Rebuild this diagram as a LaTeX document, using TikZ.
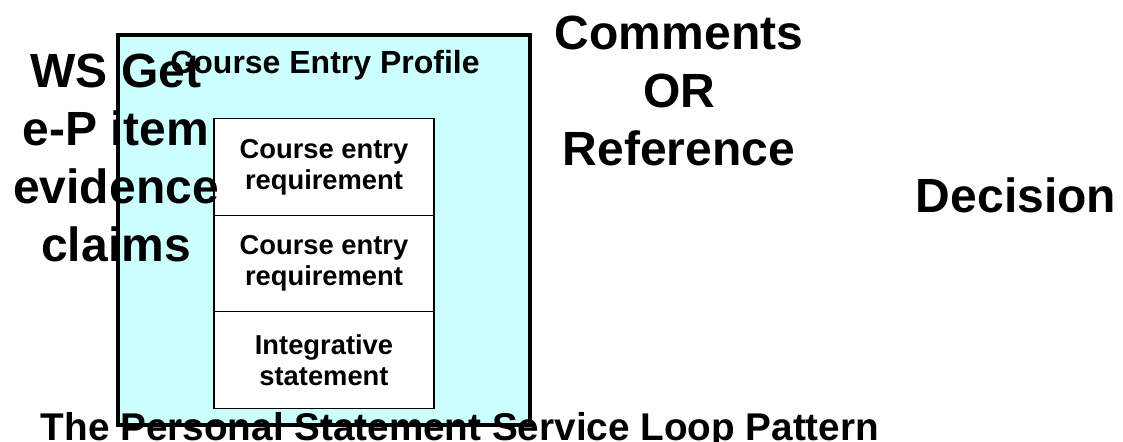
\documentclass[tikz,border=0pt]{standalone}
\usepackage{fontspec}
\setmainfont{Liberation Sans}
\definecolor{profilecyan}{HTML}{CCFFFF}
\tikzset{
  bigtext/.style={font=\fontsize{36}{43.5}\selectfont\bfseries,align=center,inner sep=0pt},
  reqcell/.style={draw,fill=white,line width=1pt,minimum width=165pt,
    minimum height=72.4pt,inner sep=0pt,align=center,
    font=\fontsize{20.5}{23.5}\selectfont\bfseries}
}
\begin{document}
\begin{tikzpicture}[x=0.75pt,y=-0.75pt]
    \useasboundingbox (0,0) rectangle (1123,442);

    \node[draw,fill=profilecyan,line width=3pt,minimum width=309pt,
      minimum height=292.5pt,inner sep=0pt] (profile) at (324,230) {};
    \node[font=\fontsize{24}{28}\selectfont\bfseries,anchor=base,inner sep=0pt]
      (profiletitle) at (325,74) {Course Entry Profile};

    \foreach \n/\y/\t in
    {1/167/{Course entry\\requirement},2/263.5/{Course entry\\requirement},3/360/{Integrative\\statement}}
    {\node[reqcell] (cell\n) at (324,\y) {\t};}

    \node[bigtext] (claims) at (116,158) {WS Get\\e-P item\\evidence\\claims};
    \node[bigtext] (comments) at (679,91) {Comments\\OR\\Reference};
    \node[bigtext,anchor=base] (decision) at (1016,212) {Decision};

    \node[font=\fontsize{29}{34}\selectfont\bfseries,anchor=base,inner sep=0pt]
      (pattern) at (460,440) {The Personal Statement Service Loop Pattern};
  \end{tikzpicture}
\end{document}
